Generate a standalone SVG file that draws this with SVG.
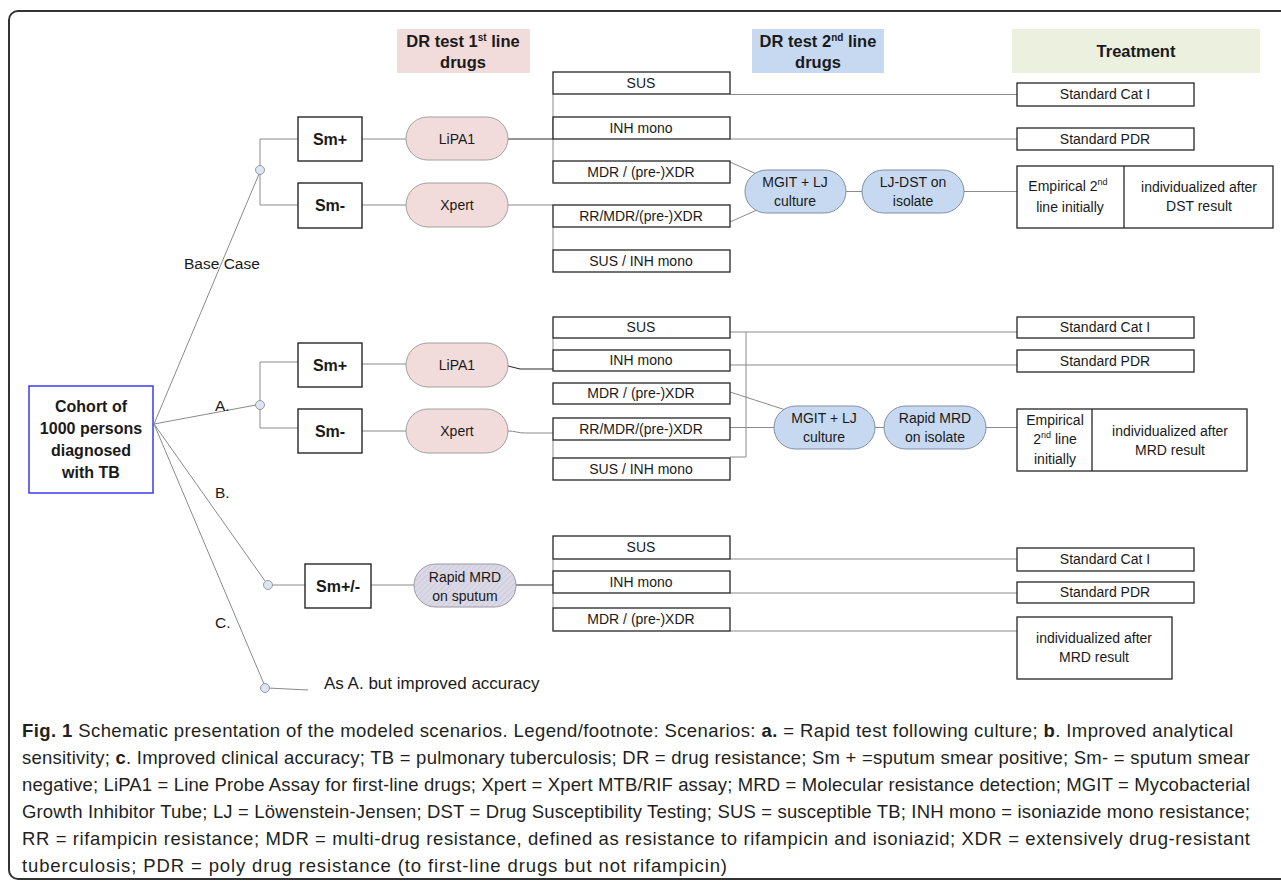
<svg xmlns="http://www.w3.org/2000/svg" width="1281" height="881" viewBox="0 0 1281 881">
<defs>
<pattern id="hatch" width="4" height="4" patternUnits="userSpaceOnUse" patternTransform="rotate(45)">
<rect width="4" height="4" fill="#dcd9e6"/>
<line x1="0" y1="0" x2="0" y2="4" stroke="#c5c0d4" stroke-width="1.2"/>
</pattern>
<style>
text{font-family:"Liberation Sans",Arial,sans-serif;fill:#1a1a1a}
.t{font-size:14px;text-anchor:middle}
.tb{font-size:16px;font-weight:bold;text-anchor:middle}
.hd{font-size:16.5px;font-weight:bold;text-anchor:middle}
.lab{font-size:15.5px}
.cap{font-size:18.5px;fill:#231f20}
.b{font-weight:bold}
.box{fill:#fff;stroke:#262626;stroke-width:1.4}
.res{fill:#fff;stroke:#262626;stroke-width:1.3}
.pk{fill:#f2dcdb;stroke:#a0a0a0;stroke-width:1}
.bl{fill:#c6d9f0;stroke:#7f8ea3;stroke-width:1}
.jn{fill:#dce6f2;stroke:#9a9a9a;stroke-width:1}
.c{fill:none;stroke:#8a8a8a;stroke-width:1}
.cd{fill:none;stroke:#2a2a2a;stroke-width:1.1}
</style>
</defs>
<rect x="0" y="0" width="1281" height="881" fill="#fff"/>
<rect x="9" y="11" width="1300" height="868" rx="9" fill="none" stroke="#333" stroke-width="2"/>

<g id="headers">
<g id="hdr-1st">
<rect x="397" y="29" width="133" height="44" fill="#f2dcdb"/>
<text class="hd" x="463" y="47">DR test 1<tspan font-size="10" dy="-6">st</tspan><tspan dy="6"> line</tspan></text>
<text class="hd" x="463" y="68">drugs</text>
</g>
<g id="hdr-2nd">
<rect x="752" y="29" width="132" height="44" fill="#c6d9f0"/>
<text class="hd" x="818" y="47">DR test 2<tspan font-size="10" dy="-6">nd</tspan><tspan dy="6"> line</tspan></text>
<text class="hd" x="818" y="68">drugs</text>
</g>
<g id="hdr-treat">
<rect x="1012" y="29" width="248" height="44" fill="#ebf1de"/>
<text class="hd" x="1136" y="57" font-size="17">Treatment</text>
</g>
</g>

<g id="connectors">
<line class="c" x1="154" y1="424" x2="259" y2="174"/>
<line class="c" x1="154" y1="424" x2="256" y2="405"/>
<line class="c" x1="154" y1="424" x2="265" y2="581"/>
<line class="c" x1="154" y1="424" x2="264" y2="684"/>
<line class="c" x1="268" y1="688" x2="308" y2="690"/>
<polyline class="c" points="298,139 260,139 260,205 298,205"/>
<line class="c" x1="362" y1="139" x2="406" y2="139"/>
<line class="c" x1="362" y1="205" x2="406" y2="205"/>
<line class="cd" x1="508" y1="139" x2="553" y2="139"/>
<line class="c" x1="508" y1="205" x2="553" y2="205"/>
<line class="c" x1="553" y1="94" x2="553" y2="161"/>
<line class="c" x1="553" y1="227" x2="553" y2="250"/>
<line class="c" x1="730" y1="94.5" x2="1017" y2="94.5"/>
<line class="c" x1="730" y1="139" x2="1017" y2="139"/>
<line class="c" x1="730" y1="162" x2="770" y2="180"/>
<line class="c" x1="730" y1="222" x2="768" y2="205"/>
<line class="c" x1="846" y1="191.5" x2="862" y2="191.5"/>
<line class="c" x1="964" y1="191.5" x2="1017" y2="191.5"/>
<polyline class="c" points="298,362 260,362 260,428 298,428"/>
<line class="c" x1="362" y1="364" x2="406" y2="364"/>
<line class="c" x1="362" y1="431" x2="406" y2="431"/>
<polyline class="cd" points="508,366 520,369 553,369"/>
<path class="c" d="M508,431 C515,431 518,433 525,433 L553,433"/>
<line class="c" x1="553" y1="338" x2="553" y2="350"/>
<line class="c" x1="553" y1="440" x2="553" y2="458"/>
<polyline class="c" points="730,457 746,457 746,332"/>
<line class="c" x1="730" y1="332" x2="1017" y2="332"/>
<line class="c" x1="730" y1="365" x2="1017" y2="365"/>
<line class="c" x1="730" y1="392" x2="798" y2="414"/>
<line class="c" x1="730" y1="427.5" x2="780" y2="427.5"/>
<line class="c" x1="875" y1="427.5" x2="884" y2="427.5"/>
<line class="c" x1="986" y1="427.5" x2="1017" y2="427.5"/>
<line class="c" x1="272" y1="585" x2="305" y2="585"/>
<line class="c" x1="370" y1="585" x2="414" y2="585"/>
<line class="cd" x1="516" y1="585" x2="553" y2="585"/>
<line class="c" x1="553" y1="559" x2="553" y2="571"/>
<line class="c" x1="553" y1="593" x2="553" y2="608"/>
<line class="c" x1="730" y1="559" x2="1017" y2="559"/>
<line class="c" x1="730" y1="593" x2="1017" y2="593"/>
<line class="c" x1="730" y1="631" x2="1017" y2="631"/>
</g>

<g id="junctions">
<circle class="jn" cx="260" cy="170" r="4.5"/>
<circle class="jn" cx="260" cy="405" r="4.5"/>
<circle class="jn" cx="268" cy="585" r="4.5"/>
<circle class="jn" cx="265" cy="688" r="4.5"/>
</g>

<g id="scenario-labels">
<text class="lab" x="184" y="269">Base Case</text>
<text class="lab" x="215" y="411">A.</text>
<text class="lab" x="215" y="498">B.</text>
<text class="lab" x="215" y="628">C.</text>
<text x="324" y="689" font-size="17">As A. but improved accuracy</text>
</g>

<g id="cohort">
<rect x="29" y="386" width="124" height="107" fill="#fff" stroke="#3a3aef" stroke-width="1.5"/>
<text class="tb" x="91" y="412">Cohort of</text>
<text class="tb" x="91" y="434">1000 persons</text>
<text class="tb" x="91" y="456">diagnosed</text>
<text class="tb" x="91" y="478">with TB</text>
</g>

<g id="base-smpos"><rect class="box" x="298" y="117" width="64" height="44"/><text class="tb" x="330" y="145">Sm+</text></g>
<g id="base-smneg"><rect class="box" x="298" y="183" width="64" height="45"/><text class="tb" x="330" y="211">Sm-</text></g>
<g id="base-lipa1"><rect class="pk" x="406" y="117" width="102" height="43" rx="21.5"/><text class="t" x="457" y="144">LiPA1</text></g>
<g id="base-xpert"><rect class="pk" x="406" y="183" width="102" height="44" rx="22"/><text class="t" x="457" y="210">Xpert</text></g>
<g id="base-sus"><rect class="res" x="553" y="72" width="177" height="22"/><text class="t" x="641" y="88">SUS</text></g>
<g id="base-inh"><rect class="res" x="553" y="117" width="177" height="22"/><text class="t" x="641" y="133">INH mono</text></g>
<g id="base-mdr"><rect class="res" x="553" y="161" width="177" height="22"/><text class="t" x="641" y="177">MDR / (pre-)XDR</text></g>
<g id="base-rr"><rect class="res" x="553" y="205" width="177" height="22"/><text class="t" x="641" y="221">RR/MDR/(pre-)XDR</text></g>
<g id="base-susinh"><rect class="res" x="553" y="250" width="177" height="22"/><text class="t" x="641" y="266">SUS / INH mono</text></g>
<g id="base-mgit"><rect class="bl" x="745" y="170" width="101" height="43" rx="21.5"/><text class="t" x="795" y="187">MGIT + LJ</text><text class="t" x="795" y="206">culture</text></g>
<g id="base-ljdst"><rect class="bl" x="862" y="170" width="102" height="43" rx="21.5"/><text class="t" x="913" y="187">LJ-DST on</text><text class="t" x="913" y="206">isolate</text></g>
<g id="base-cat1"><rect class="res" x="1017" y="83" width="177" height="23"/><text class="t" x="1105" y="99">Standard Cat I</text></g>
<g id="base-pdr"><rect class="res" x="1017" y="128" width="177" height="22"/><text class="t" x="1105" y="144">Standard PDR</text></g>
<g id="base-emp">
<rect class="res" x="1017" y="166" width="256" height="62"/>
<line x1="1124" y1="166" x2="1124" y2="228" stroke="#262626" stroke-width="1.3"/>
<text class="t" x="1068" y="191">Empirical 2<tspan font-size="9" dy="-6">nd</tspan></text>
<text class="t" x="1070" y="212">line initially</text>
<text class="t" x="1199" y="192">individualized after</text>
<text class="t" x="1199" y="211">DST result</text>
</g>

<g id="a-smpos"><rect class="box" x="298" y="343" width="64" height="44"/><text class="tb" x="330" y="371">Sm+</text></g>
<g id="a-smneg"><rect class="box" x="298" y="409" width="64" height="44"/><text class="tb" x="330" y="437">Sm-</text></g>
<g id="a-lipa1"><rect class="pk" x="406" y="343" width="102" height="44" rx="22"/><text class="t" x="457" y="370">LiPA1</text></g>
<g id="a-xpert"><rect class="pk" x="406" y="409" width="102" height="44" rx="22"/><text class="t" x="457" y="436">Xpert</text></g>
<g id="a-sus"><rect class="res" x="553" y="317" width="177" height="21"/><text class="t" x="641" y="332">SUS</text></g>
<g id="a-inh"><rect class="res" x="553" y="350" width="177" height="21"/><text class="t" x="641" y="365">INH mono</text></g>
<g id="a-mdr"><rect class="res" x="553" y="383" width="177" height="21"/><text class="t" x="641" y="398">MDR / (pre-)XDR</text></g>
<g id="a-rr"><rect class="res" x="553" y="418" width="177" height="22"/><text class="t" x="641" y="434">RR/MDR/(pre-)XDR</text></g>
<g id="a-susinh"><rect class="res" x="553" y="458" width="177" height="22"/><text class="t" x="641" y="474">SUS / INH mono</text></g>
<g id="a-mgit"><rect class="bl" x="774" y="406" width="101" height="43" rx="21.5"/><text class="t" x="824" y="423">MGIT + LJ</text><text class="t" x="824" y="442">culture</text></g>
<g id="a-rapid"><rect class="bl" x="884" y="406" width="102" height="43" rx="21.5"/><text class="t" x="935" y="423">Rapid MRD</text><text class="t" x="935" y="442">on isolate</text></g>
<g id="a-cat1"><rect class="res" x="1017" y="317" width="177" height="21"/><text class="t" x="1105" y="332">Standard Cat I</text></g>
<g id="a-pdr"><rect class="res" x="1017" y="350" width="177" height="22"/><text class="t" x="1105" y="366">Standard PDR</text></g>
<g id="a-emp">
<rect class="res" x="1017" y="409" width="230" height="62"/>
<line x1="1092" y1="409" x2="1092" y2="471" stroke="#262626" stroke-width="1.3"/>
<text class="t" x="1055" y="425">Empirical</text>
<text class="t" x="1055" y="444">2<tspan font-size="9" dy="-6">nd</tspan><tspan dy="6"> line</tspan></text>
<text class="t" x="1055" y="464">initially</text>
<text class="t" x="1170" y="436">individualized after</text>
<text class="t" x="1170" y="455">MRD result</text>
</g>

<g id="b-smpm"><rect class="box" x="305" y="564" width="66" height="44"/><text class="tb" x="338" y="592">Sm+/-</text></g>
<g id="b-rapid"><rect x="414" y="564" width="102" height="43" rx="21.5" fill="url(#hatch)" stroke="#9a98a6" stroke-width="1"/><text class="t" x="465" y="582">Rapid MRD</text><text class="t" x="465" y="601">on sputum</text></g>
<g id="b-sus"><rect class="res" x="553" y="536" width="177" height="23"/><text class="t" x="641" y="552">SUS</text></g>
<g id="b-inh"><rect class="res" x="553" y="571" width="177" height="22"/><text class="t" x="641" y="587">INH mono</text></g>
<g id="b-mdr"><rect class="res" x="553" y="608" width="177" height="23"/><text class="t" x="641" y="624">MDR / (pre-)XDR</text></g>
<g id="b-cat1"><rect class="res" x="1017" y="548" width="177" height="23"/><text class="t" x="1105" y="564">Standard Cat I</text></g>
<g id="b-pdr"><rect class="res" x="1017" y="582" width="177" height="21"/><text class="t" x="1105" y="597">Standard PDR</text></g>
<g id="b-ind"><rect class="res" x="1017" y="617" width="155" height="62"/><text class="t" x="1094" y="643">individualized after</text><text class="t" x="1094" y="662">MRD result</text></g>

<g id="caption">
<text class="cap" x="22" y="737" textLength="1211" lengthAdjust="spacing"><tspan class="b">Fig. 1</tspan> Schematic presentation of the modeled scenarios. Legend/footnote: Scenarios: <tspan class="b">a.</tspan> = Rapid test following culture; <tspan class="b">b</tspan>. Improved analytical</text>
<text class="cap" x="22" y="764" textLength="1228" lengthAdjust="spacing">sensitivity; <tspan class="b">c</tspan>. Improved clinical accuracy; TB = pulmonary tuberculosis; DR = drug resistance; Sm + =sputum smear positive; Sm- = sputum smear</text>
<text class="cap" x="22" y="791" textLength="1228" lengthAdjust="spacing">negative; LiPA1 = Line Probe Assay for first-line drugs; Xpert = Xpert MTB/RIF assay; MRD = Molecular resistance detection; MGIT = Mycobacterial</text>
<text class="cap" x="22" y="818" textLength="1228" lengthAdjust="spacing">Growth Inhibitor Tube; LJ = Löwenstein-Jensen; DST = Drug Susceptibility Testing; SUS = susceptible TB; INH mono = isoniazide mono resistance;</text>
<text class="cap" x="22" y="845" textLength="1228" lengthAdjust="spacing">RR = rifampicin resistance; MDR = multi-drug resistance, defined as resistance to rifampicin and isoniazid; XDR = extensively drug-resistant</text>
<text class="cap" x="22" y="872" textLength="705" lengthAdjust="spacing">tuberculosis; PDR = poly drug resistance (to first-line drugs but not rifampicin)</text>
</g>
</svg>
